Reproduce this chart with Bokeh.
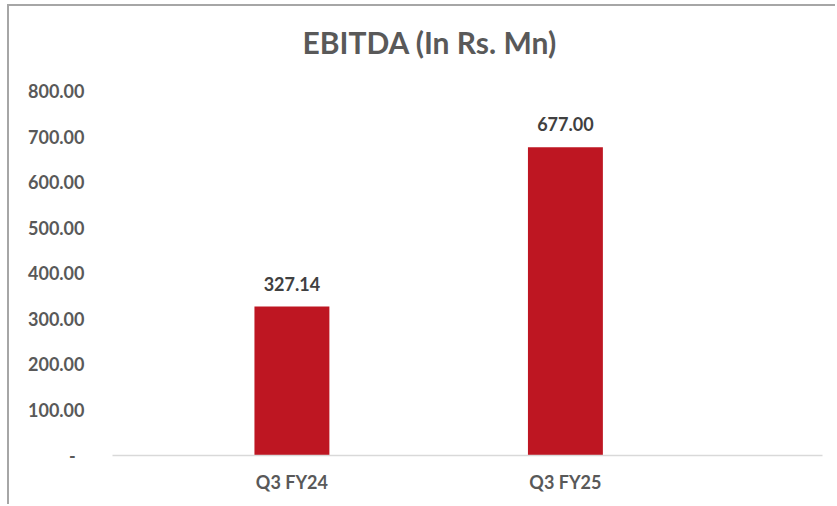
from bokeh.plotting import figure
from bokeh.models import ColumnDataSource, FixedTicker, LabelSet, NumeralTickFormatter, Range1d, Title
from bokeh.core.properties import value
from bokeh.embed import file_html
from bokeh.resources import INLINE

categories = ["Q3 FY24", "Q3 FY25"]
values = [327.14, 677.00]
value_labels = ["327.14", "677.00"]
y_ticks = [0, 100, 200, 300, 400, 500, 600, 700, 800]

FONT = "Lato"
BAR = "#BE1622"
AXIS_TXT = "#595959"
LBL_TXT = "#404040"

idx = list(range(len(categories)))
src = ColumnDataSource(dict(x=idx, top=values, lab=value_labels))

p = figure(width=828, height=500, output_backend="svg", toolbar_location=None,
           x_range=Range1d(-0.656, 1.94), y_range=Range1d(0, 850),
           min_border_left=103, min_border_right=15, min_border_top=62, min_border_bottom=51,
           styles={"border-top": "2px solid #a6a6a6", "border-left": "2px solid #a6a6a6",
                   "margin-top": "4px", "margin-left": "7px"})
p.outline_line_color = None
p.xgrid.visible = False
p.ygrid.visible = False
p.background_fill_color = "white"
p.border_fill_color = "white"

p.vbar(x="x", top="top", width=0.274, source=src, fill_color=BAR, line_color=None)

labels = LabelSet(x="x", y="top", text="lab", source=src, text_align="center",
                  text_baseline="alphabetic", y_offset=16, text_font=value(FONT),
                  text_font_style="bold", text_font_size="18px", text_color=LBL_TXT)
p.add_layout(labels)

# y axis
p.yaxis.ticker = FixedTicker(ticks=y_ticks)
p.yaxis.formatter = NumeralTickFormatter(format="0.00")
p.yaxis.major_label_overrides = {0: "-\u00a0\u00a0"}
p.yaxis.axis_line_color = None
p.yaxis.major_tick_line_color = None
p.yaxis.minor_tick_line_color = None
p.yaxis.major_label_text_font = FONT
p.yaxis.major_label_text_font_style = "bold"
p.yaxis.major_label_text_font_size = "18px"
p.yaxis.major_label_text_color = AXIS_TXT
p.yaxis.major_label_standoff = 22

# x axis
p.xaxis.ticker = FixedTicker(ticks=idx)
p.xaxis.major_label_overrides = {i: c for i, c in zip(idx, categories)}
p.xaxis.axis_line_color = "#D9D9D9"
p.xaxis.axis_line_width = 1.5
p.xaxis.major_tick_line_color = None
p.xaxis.minor_tick_line_color = None
p.xaxis.major_label_text_font = FONT
p.xaxis.major_label_text_font_style = "bold"
p.xaxis.major_label_text_font_size = "18px"
p.xaxis.major_label_text_color = AXIS_TXT
p.xaxis.major_label_standoff = 9

p.title = Title(text="EBITDA (In Rs. Mn)", align="left", offset=190,
                text_font=FONT, text_font_style="bold", text_font_size="30px",
                text_color=AXIS_TXT, standoff=17)

open("out.html", "w").write(file_html(p, INLINE))
